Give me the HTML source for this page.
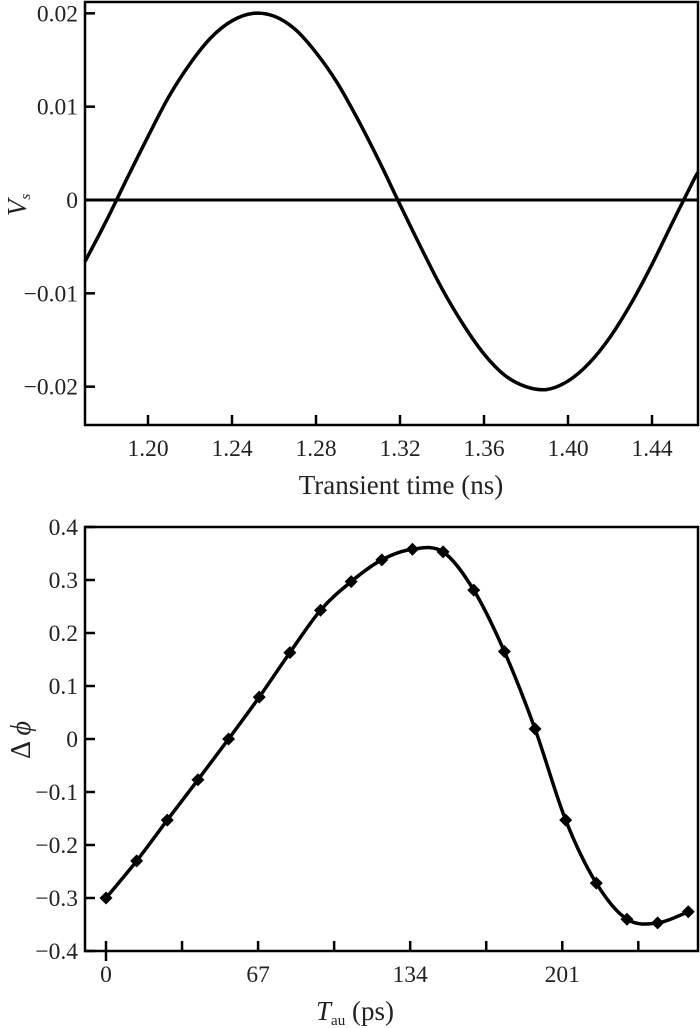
<!DOCTYPE html>
<html><head><meta charset="utf-8"><style>
body{margin:0;background:#fff;}
svg{display:block;font-family:"Liberation Serif",serif;}
</style></head><body>
<svg id="fig" width="700" height="1028" viewBox="0 0 700 1028">
<g id="top"></g>
<g id="bot"></g>
</svg>
<script>
const topT=[1.17,1.18,1.19,1.20,1.21,1.22,1.23,1.24,1.25,1.26,1.27,1.28,1.29,1.30,1.31,1.32,1.33,1.34,1.35,1.36,1.37,1.38,1.39,1.40,1.41,1.42,1.43,1.44,1.45,1.46,1.462];
const topV=[-0.0066,-0.0023,0.0023,0.0068,0.0111,0.0146,0.0174,0.0192,0.0200,0.0197,0.0183,0.0158,0.0126,0.0086,0.0042,-0.0005,-0.0051,-0.0095,-0.0133,-0.0165,-0.0188,-0.0200,-0.0203,-0.0194,-0.0175,-0.0147,-0.0111,-0.0069,-0.0023,0.0022,0.0030];
const topXTicks=[1.20,1.24,1.28,1.32,1.36,1.40,1.44];
const topXLabels=["1.20","1.24","1.28","1.32","1.36","1.40","1.44"];
const topYTicks=[0.02,0.01,0,-0.01,-0.02];
const topYLabels=["0.02","0.01","0","\u22120.01","\u22120.02"];

const botX=[0,13.5,27,40.5,54,67.5,81,94.5,108,121.5,135,148.5,162,175.5,189,202.5,216,229.5,243,256.5];
const botY=[-0.30,-0.23,-0.153,-0.077,0,0.079,0.163,0.243,0.297,0.338,0.358,0.353,0.281,0.165,0.019,-0.153,-0.272,-0.34,-0.347,-0.326];
const botXTicks=[0,33.5,67,100.5,134,167.5,201,234.5];
const botXLabels=["0","","67","","134","","201",""];
const botYTicks=[0.4,0.3,0.2,0.1,0,-0.1,-0.2,-0.3,-0.4];
const botYLabels=["0.4","0.3","0.2","0.1","0","\u22120.1","\u22120.2","\u22120.3","\u22120.4"];

const NS="http://www.w3.org/2000/svg";
function mk(parent,tag,attrs){const e=document.createElementNS(NS,tag);for(const k in attrs)e.setAttribute(k,attrs[k]);parent.appendChild(e);return e;}

const tx=t=>85+(t-1.17)*2100;
const ty=v=>200-v*9333;
const bx=x=>106+x*2.27;
const by=v=>739-v*530;

function catmull(pts){let d="M"+pts[0][0]+","+pts[0][1];for(let i=0;i<pts.length-1;i++){const p0=pts[i-1]||pts[i],p1=pts[i],p2=pts[i+1],p3=pts[i+2]||p2;const c1=[p1[0]+(p2[0]-p0[0])/6,p1[1]+(p2[1]-p0[1])/6],c2=[p2[0]-(p3[0]-p1[0])/6,p2[1]-(p3[1]-p1[1])/6];d+=" C"+c1[0]+","+c1[1]+" "+c2[0]+","+c2[1]+" "+p2[0]+","+p2[1];}return d;}

const FS=23.5;
const T=document.getElementById('top');
let e;
e=mk(T,'rect',{x:85,y:2,width:613,height:423,fill:'none',stroke:'#000','stroke-width':2.5});


e=mk(T,'line',{x1:85,x2:698,y1:ty(0),y2:ty(0),stroke:'#000','stroke-width':3});


topXTicks.forEach((t,i)=>{
  e=mk(T,'line',{x1:tx(t),x2:tx(t),y1:425,y2:415,stroke:'#000','stroke-width':2.5});
  
  
  e=mk(T,'text',{x:tx(t),y:456,'text-anchor':'middle','font-size':FS,fill:'#222'});
  e.textContent=topXLabels[i];
  
  
});
topYTicks.forEach((v,i)=>{
  e=mk(T,'line',{x1:85,x2:95,y1:ty(v),y2:ty(v),stroke:'#000','stroke-width':2.5});
  
  
  e=mk(T,'text',{x:78,y:ty(v)+8,'text-anchor':'end','font-size':FS,fill:'#222'});
  e.textContent=topYLabels[i];
  
  
});
e=mk(T,'path',{d:catmull(topT.map((t,i)=>[tx(t),ty(topV[i])])),fill:'none',stroke:'#000','stroke-width':3.5});


e=mk(T,'text',{x:401,y:494,'text-anchor':'middle','font-size':27,fill:'#222'});
e.textContent='Transient time (ns)';


e=mk(T,'text',{x:0,y:0,transform:'translate(26,205) rotate(-90)','text-anchor':'middle','font-size':27,'font-style':'italic',fill:'#222'});
e.innerHTML='V<tspan font-size="15" dy="4">s</tspan>';



const B=document.getElementById('bot');
e=mk(B,'rect',{x:85,y:527,width:613,height:424,fill:'none',stroke:'#000','stroke-width':2.5});


botXTicks.forEach((x,i)=>{
  e=mk(B,'line',{x1:bx(x),x2:bx(x),y1:951,y2:941,stroke:'#000','stroke-width':2.5});
  
  
  if(i===0){e=mk(B,'line',{x1:bx(x),x2:bx(x),y1:951,y2:961,stroke:'#000','stroke-width':2.5});
  
  }
  if(botXLabels[i]){
  e=mk(B,'text',{x:bx(x),y:982,'text-anchor':'middle','font-size':FS,fill:'#222'});
  e.textContent=botXLabels[i];
  
  }
});
botYTicks.forEach((v,i)=>{
  e=mk(B,'line',{x1:85,x2:95,y1:by(v),y2:by(v),stroke:'#000','stroke-width':2.5});
  
  
  e=mk(B,'text',{x:78,y:by(v)+8,'text-anchor':'end','font-size':FS,fill:'#222'});
  e.textContent=botYLabels[i];
  
  
});
e=mk(B,'path',{d:catmull(botX.map((x,i)=>[bx(x),by(botY[i])])),fill:'none',stroke:'#000','stroke-width':3.5});


botX.forEach((x,i)=>{
  const cx=bx(x),cy=by(botY[i]);
  e=mk(B,'path',{d:`M${cx},${cy-6.5} L${cx+6.5},${cy} L${cx},${cy+6.5} L${cx-6.5},${cy} Z`,fill:'#000'});
  
  
});
e=mk(B,'text',{x:355,y:1020,'text-anchor':'middle','font-size':27,fill:'#222'});
e.innerHTML='<tspan font-style="italic">T</tspan><tspan font-size="15" dy="5">au</tspan><tspan dy="-5"> (ps)</tspan>';


e=mk(B,'text',{x:0,y:0,transform:'translate(30,740) rotate(-90)','text-anchor':'middle','font-size':28,fill:'#222'});
e.innerHTML='Δ <tspan font-style="italic">ϕ</tspan>';


</script>
</body></html>
